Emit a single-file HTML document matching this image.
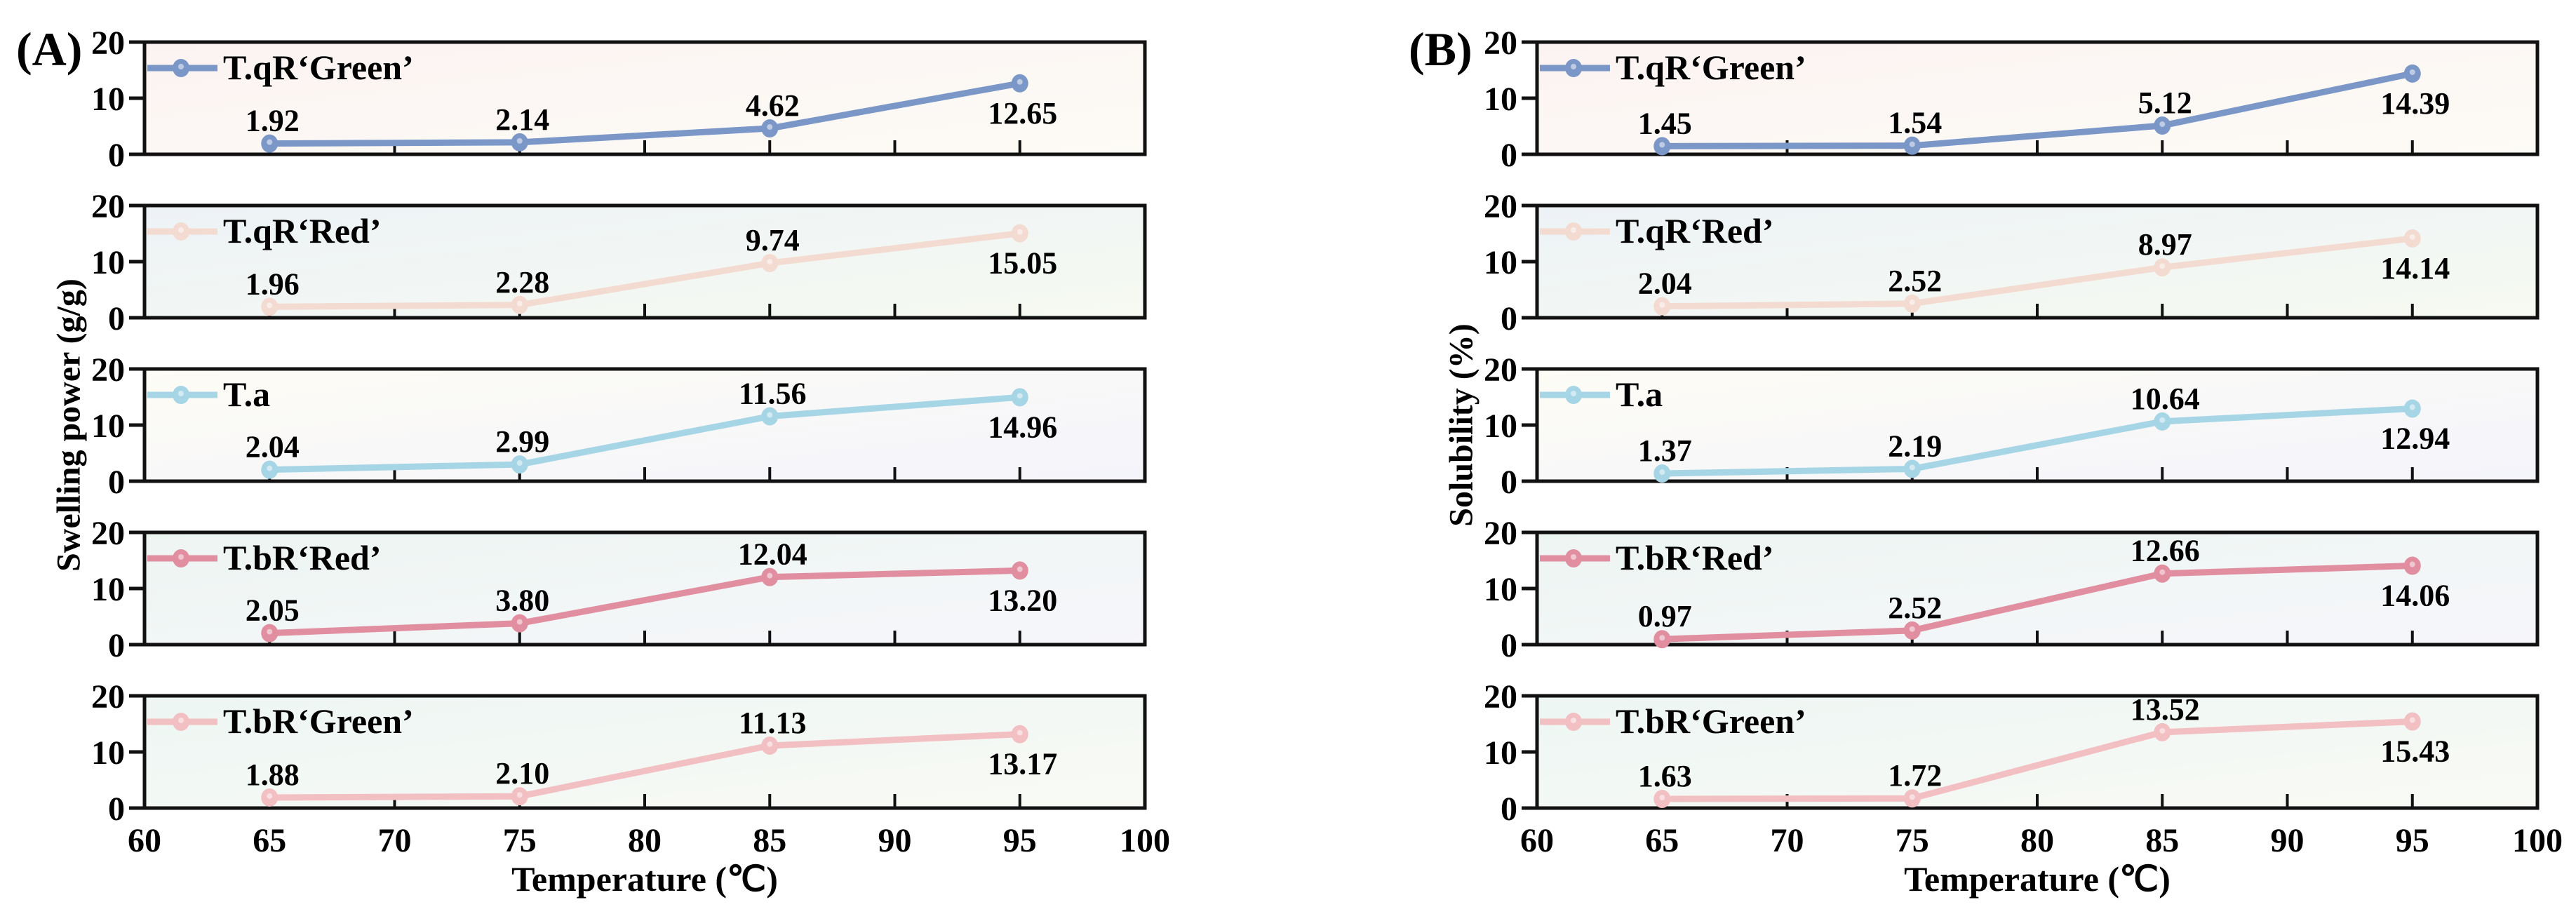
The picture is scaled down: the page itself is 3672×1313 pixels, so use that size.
<!DOCTYPE html>
<html><head><meta charset="utf-8"><style>
html,body{margin:0;padding:0;background:#fff;}
svg{display:block;font-family:"Liberation Serif","Times New Roman",serif;font-weight:bold;}
</style></head><body>
<svg id="chart" width="3672" height="1313" viewBox="0 0 3672 1313" xmlns="http://www.w3.org/2000/svg">
<defs>
<linearGradient id="g0" x1="0" y1="0" x2="1" y2="1"><stop offset="0" stop-color="#fbf3f2"/><stop offset="1" stop-color="#fdfbf6"/></linearGradient>
<linearGradient id="g1" x1="0" y1="0" x2="1" y2="1"><stop offset="0" stop-color="#edf2f6"/><stop offset="1" stop-color="#f6faf2"/></linearGradient>
<linearGradient id="g2" x1="0" y1="0" x2="1" y2="1"><stop offset="0" stop-color="#fdfcf5"/><stop offset="1" stop-color="#f4f4fb"/></linearGradient>
<linearGradient id="g3" x1="0" y1="0" x2="1" y2="1"><stop offset="0" stop-color="#edf5f1"/><stop offset="1" stop-color="#f6f6fb"/></linearGradient>
<linearGradient id="g4" x1="0" y1="0" x2="1" y2="1"><stop offset="0" stop-color="#edf6f3"/><stop offset="1" stop-color="#f9faf5"/></linearGradient>
</defs>
<g id="root"></g>
</svg>
<script>
const temps = [65, 75, 85, 95];
const seriesNames = ["T.qR\u2018Green\u2019", "T.qR\u2018Red\u2019", "T.a", "T.bR\u2018Red\u2019", "T.bR\u2018Green\u2019"];
const seriesColors = ["#7b97c8", "#f3dbd2", "#a6d5e6", "#e08ea0", "#f2bfc2"];
const swellingValues = [
  [1.92, 2.14, 4.62, 12.65],
  [1.96, 2.28, 9.74, 15.05],
  [2.04, 2.99, 11.56, 14.96],
  [2.05, 3.80, 12.04, 13.20],
  [1.88, 2.10, 11.13, 13.17]
];
const solubilityValues = [
  [1.45, 1.54, 5.12, 14.39],
  [2.04, 2.52, 8.97, 14.14],
  [1.37, 2.19, 10.64, 12.94],
  [0.97, 2.52, 12.66, 14.06],
  [1.63, 1.72, 13.52, 15.43]
];
const swellingLabels = [
  ["1.92","2.14","4.62","12.65"],["1.96","2.28","9.74","15.05"],["2.04","2.99","11.56","14.96"],["2.05","3.80","12.04","13.20"],["1.88","2.10","11.13","13.17"]];
const solubilityLabels = [
  ["1.45","1.54","5.12","14.39"],["2.04","2.52","8.97","14.14"],["1.37","2.19","10.64","12.94"],["0.97","2.52","12.66","14.06"],["1.63","1.72","13.52","15.43"]];
const xTicks = [60, 65, 70, 75, 80, 85, 90, 95, 100];
const yTicks = [0, 10, 20];

const NS = "http://www.w3.org/2000/svg";
const root = document.getElementById("root");
function mk(tag, attrs, parent, text){
  const e = document.createElementNS(NS, tag);
  for (const k in attrs) e.setAttribute(k, attrs[k]);
  if (text !== undefined) e.textContent = text;
  (parent || root).appendChild(e);
  return e;
}
const panelTops = [60, 293, 526, 759, 992];
const PH = 160;

function drawChart(x0, x1, values, labels, tag, letter, ytitle){
  const xs = v => x0 + (v - 60) / 40 * (x1 - x0);
  const g = mk("g", {});
  
  
  const L = mk("text", {x: x0 - 183, y: 93, "font-size": 68}, g, "(" + letter + ")");
  
  
  const cy = (panelTops[0] + panelTops[4] + PH) / 2;
  const yt = mk("text", {x: x0 - 108, y: cy, "font-size": 48, "text-anchor": "middle", transform: "rotate(-90 " + (x0 - 108) + " " + cy + ")", "dominant-baseline": "central"}, g, ytitle);
  
  
  for (let i = 0; i < 5; i++) {
    const top = panelTops[i], bot = top + PH;
    const ys = v => bot - v / 20 * PH;
    const pg = mk("g", {}, g);
    
    
    const bg = mk("rect", {x: x0, y: top, width: x1 - x0, height: PH, fill: "url(#g" + i + ")"}, pg);
    
    
    // x ticks (inward)
    xTicks.forEach(t => {
      if (t === 60 || t === 100) return;
      const tk = mk("line", {x1: xs(t), x2: xs(t), y1: bot, y2: bot - 20, stroke: "#111", "stroke-width": 4}, pg);
      
      
    });
    // y ticks (outward) and labels
    yTicks.forEach(t => {
      const tk = mk("line", {x1: x0 - 22, x2: x0, y1: ys(t), y2: ys(t), stroke: "#111", "stroke-width": 5}, pg);
      
      
      const tl = mk("text", {x: x0 - 28, y: ys(t) + 17, "font-size": 48, "text-anchor": "end"}, pg, String(t));
      
      
    });
    const fr = mk("rect", {x: x0, y: top, width: x1 - x0, height: PH, fill: "none", stroke: "#111", "stroke-width": 5}, pg);
    
    
    // series line
    const col = seriesColors[i];
    const pts = temps.map((t, j) => xs(t) + "," + ys(values[i][j])).join(" ");
    const ln = mk("polyline", {points: pts, fill: "none", stroke: col, "stroke-width": 9, "stroke-linejoin": "round"}, pg);
    
    
    temps.forEach((t, j) => {
      const px = xs(t), py = ys(values[i][j]);
      const m = mk("ellipse", {cx: px, cy: py, rx: 12, ry: 13, fill: col}, pg);
      
      
      mk("circle", {cx: px, cy: py - 2, r: 4, fill: "#ffffff", opacity: 0.5}, pg);
      const below = j === 3 && values[i][j] > 11;
      const ly = below ? py + 57 : py - 18;
      const lab = mk("text", {x: px + 4, y: ly, "font-size": 44, "text-anchor": "middle"}, pg, labels[i][j]);
      
      
    });
    // legend
    const lg = mk("g", {}, pg);
    
    
    const ly = top + 37;
    mk("line", {x1: x0 + 4, x2: x0 + 104, y1: ly, y2: ly, stroke: col, "stroke-width": 9}, lg);
    mk("ellipse", {cx: x0 + 52, cy: ly, rx: 12, ry: 13, fill: col}, lg);
    mk("circle", {cx: x0 + 52, cy: ly - 2, r: 4, fill: "#fff", opacity: 0.5}, lg);
    mk("text", {x: x0 + 112, y: ly + 16, "font-size": 50}, lg, seriesNames[i]);
  }
  const bot = panelTops[4] + PH;
  xTicks.forEach(t => {
    const xl = mk("text", {x: xs(t), y: bot + 62, "font-size": 48, "text-anchor": "middle"}, g, String(t));
    
    
  });
  const xt = mk("text", {x: (x0 + x1) / 2, y: bot + 118, "font-size": 50, "text-anchor": "middle"}, g, "Temperature (\u2103)");
  
  
}
drawChart(206, 1632, swellingValues, swellingLabels, "a", "A", "Swelling power (g/g)");
drawChart(2191, 3617, solubilityValues, solubilityLabels, "b", "B", "Solubility (%)");
</script>
</body></html>
